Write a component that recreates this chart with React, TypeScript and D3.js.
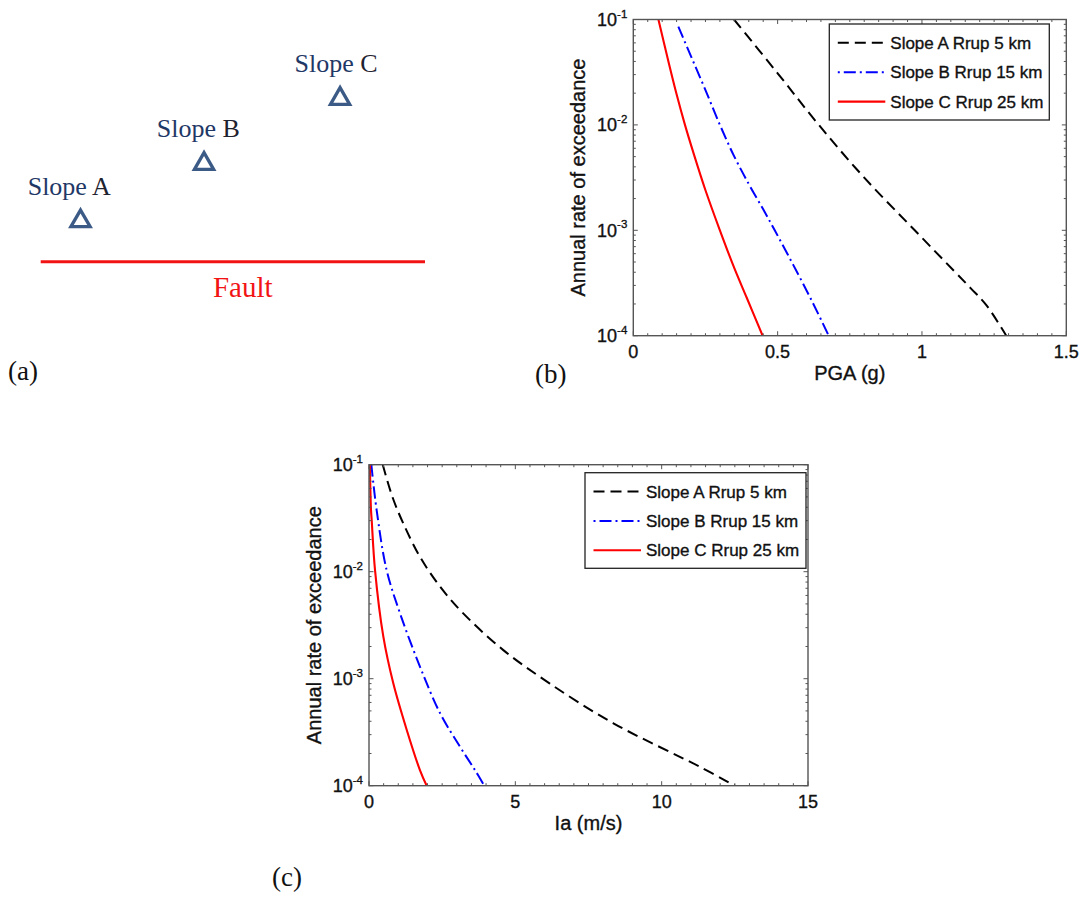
import React from 'react';
import * as d3 from 'd3';

// ---------- data ----------
const legendLabels = ['Slope A Rrup 5 km', 'Slope B Rrup 15 km', 'Slope C Rrup 25 km'];
const rateTicks = [1e-4, 1e-3, 1e-2, 1e-1];
const rateTickExp = ['-4', '-3', '-2', '-1'];
const pgaTicks = [0, 0.5, 1, 1.5];
const pgaTickLabels = ['0', '0.5', '1', '1.5'];
const iaTicks = [0, 5, 10, 15];
const iaTickLabels = ['0', '5', '10', '15'];

// panel (b): PGA hazard curves
const pgaA = [0.349, 0.5, 0.64, 0.8, 0.975, 1.108, 1.17, 1.223, 1.292];
const rateA_pga = [0.1, 0.0309, 0.0102, 0.00316, 0.001, 4.2e-4, 2.8e-4, 1.95e-4, 1e-4];
const pgaB = [0.156, 0.2, 0.25, 0.3, 0.35, 0.4, 0.45, 0.49, 0.554, 0.62, 0.677];
const rateB_pga = [0.0855, 0.0447, 0.0214, 0.01, 0.005, 0.00275, 0.00158, 0.001, 4.7e-4, 2.1e-4, 1e-4];
const pgaC = [0.087, 0.12, 0.15, 0.179, 0.21, 0.25, 0.3, 0.35, 0.393, 0.448];
const rateC_pga = [0.1, 0.0417, 0.0195, 0.01, 0.00525, 0.0024, 0.001, 4.37e-4, 2.29e-4, 1e-4];

// panel (c): Ia hazard curves
const iaA = [0.47, 0.8, 1.17, 1.74, 2.43, 3.22, 4.59, 6.18, 8.35, 11.31, 12.5];
const rateA_ia = [0.1, 0.05, 0.0283, 0.0138, 0.00724, 0.00408, 0.00185, 9.0e-4, 3.83e-4, 1.5e-4, 1e-4];
const iaB = [0.08, 0.26, 0.6, 1.06, 1.74, 2.43, 3.11, 3.62, 3.94];
const rateB_ia = [0.1, 0.0378, 0.0104, 0.00408, 0.0013, 4.75e-4, 2.31e-4, 1.4e-4, 1e-4];
const iaC = [0.03, 0.068, 0.092, 0.205, 0.49, 0.83, 1.29, 1.74, 1.97];
const rateC_ia = [0.1, 0.038, 0.0304, 0.0104, 0.00247, 9.06e-4, 3.32e-4, 1.4e-4, 1e-4];

// panel (a): schematic
const siteNames = ['A', 'B', 'C'];
const siteAlong = [10.36, 42.5, 77.9]; // % along fault
const siteHeight = [35, 92.4, 157.4]; // schematic distance above fault

// ---------- styles ----------
const SANS = '"Liberation Sans", Arial, Helvetica, sans-serif';
const SERIF = '"Liberation Serif", "Times New Roman", serif';
const TXT = '#111';
const seriesStyle = [
  { color: '#000000', dash: '11,6', width: 2 },
  { color: '#0000ff', dash: '12,4,2,4', width: 2 },
  { color: '#ff0000', dash: '', width: 2.1 },
];

type Box = { left: number; right: number; top: number; bottom: number };
type Leg = { x: number; y: number; w: number; h: number };

const boldish = { stroke: TXT, strokeWidth: 0.35 };

function Panel(props: {
  id: string;
  box: Box;
  xMax: number;
  xTicks: number[];
  xTickLabels: string[];
  xMinorStep: number;
  xLabel: string;
  xs: number[][];
  ys: number[][];
  legend: Leg;
}) {
  const { id, box, xMax, xTicks, xTickLabels, xMinorStep, xLabel, xs, ys, legend } = props;
  const x = d3.scaleLinear().domain([0, xMax]).range([box.left, box.right]);
  const y = d3.scaleLog().domain([1e-4, 1e-1]).range([box.bottom, box.top]);
  const axisColor = '#555';
  const majorLen = 4.5;
  const minorLen = 2.5;
  const xMinor = d3.range(0, xMax + 1e-9, xMinorStep).filter(
    (v) => !xTicks.some((t) => Math.abs(t - v) < 1e-9)
  );
  const yMinor: number[] = [];
  [-4, -3, -2].forEach((e) => {
    for (let k = 2; k <= 9; k++) yMinor.push(k * Math.pow(10, e));
  });
  const line = d3
    .line<[number, number]>()
    .x((d) => x(d[0]))
    .y((d) => y(d[1]))
    .curve(d3.curveCatmullRom.alpha(0.5));
  const midX = (box.left + box.right) / 2;
  const midY = (box.top + box.bottom) / 2;
  const tickEls: React.ReactNode[] = [];
  xTicks.forEach((t, i) => {
    tickEls.push(
      <line key={'xb' + i} x1={x(t)} x2={x(t)} y1={box.bottom} y2={box.bottom - majorLen} stroke={axisColor} strokeWidth={1} />,
      <line key={'xt' + i} x1={x(t)} x2={x(t)} y1={box.top} y2={box.top + majorLen} stroke={axisColor} strokeWidth={1} />
    );
  });
  xMinor.forEach((t, i) => {
    tickEls.push(
      <line key={'xmb' + i} x1={x(t)} x2={x(t)} y1={box.bottom} y2={box.bottom - minorLen} stroke={axisColor} strokeWidth={1} />,
      <line key={'xmt' + i} x1={x(t)} x2={x(t)} y1={box.top} y2={box.top + minorLen} stroke={axisColor} strokeWidth={1} />
    );
  });
  rateTicks.forEach((t, i) => {
    tickEls.push(
      <line key={'yl' + i} x1={box.left} x2={box.left + majorLen} y1={y(t)} y2={y(t)} stroke={axisColor} strokeWidth={1} />,
      <line key={'yr' + i} x1={box.right} x2={box.right - majorLen} y1={y(t)} y2={y(t)} stroke={axisColor} strokeWidth={1} />
    );
  });
  yMinor.forEach((t, i) => {
    tickEls.push(
      <line key={'yml' + i} x1={box.left} x2={box.left + minorLen} y1={y(t)} y2={y(t)} stroke={axisColor} strokeWidth={1} />,
      <line key={'ymr' + i} x1={box.right} x2={box.right - minorLen} y1={y(t)} y2={y(t)} stroke={axisColor} strokeWidth={1} />
    );
  });
  return (
    <g>
      <defs>
        <clipPath id={'clip-' + id}>
          <rect x={box.left} y={box.top} width={box.right - box.left} height={box.bottom - box.top} />
        </clipPath>
      </defs>
      <g clipPath={`url(#clip-${id})`}>
        {xs.map((sx, si) => (
          <path
            key={si}
            d={line(sx.map((v, j) => [v, ys[si][j]] as [number, number])) || ''}
            fill="none"
            stroke={seriesStyle[si].color}
            strokeWidth={seriesStyle[si].width}
            strokeDasharray={seriesStyle[si].dash || undefined}
          />
        ))}
      </g>
      {tickEls}
      <rect
        x={box.left}
        y={box.top}
        width={box.right - box.left}
        height={box.bottom - box.top}
        fill="none"
        stroke={axisColor}
        strokeWidth={1.4}
      />
      {/* x tick labels */}
      {xTicks.map((t, i) => (
        <text key={'xl' + i} x={x(t)} y={box.bottom + 22} textAnchor="middle" fontFamily={SANS} fontSize={18} fill={TXT} {...boldish}>
          {xTickLabels[i]}
        </text>
      ))}
      {/* y tick labels */}
      {rateTicks.map((t, i) => (
        <text key={'yt' + i} x={box.left - 6} y={y(t) + 6.5} textAnchor="end" fontFamily={SANS} fontSize={18} fill={TXT} {...boldish}>
          10
          <tspan fontSize={11.5} dy={-8.5}>
            {rateTickExp[i]}
          </tspan>
        </text>
      ))}
      <text x={midX} y={box.bottom + 44} textAnchor="middle" fontFamily={SANS} fontSize={20} fill={TXT} {...boldish}>
        {xLabel}
      </text>
      <text
        transform={`translate(${box.left - 48},${midY}) rotate(-90)`}
        textAnchor="middle"
        fontFamily={SANS}
        fontSize={20}
        fill={TXT}
        {...boldish}
      >
        Annual rate of exceedance
      </text>
      {/* legend */}
      <rect x={legend.x} y={legend.y} width={legend.w} height={legend.h} fill="#fff" stroke="#222" strokeWidth={1.3} />
      {legendLabels.map((lab, i) => {
        const ry = legend.y + 18.8 + 29.4 * i;
        const st = seriesStyle[i];
        return (
          <g key={'lg' + i}>
            <line
              x1={legend.x + 8.5}
              x2={legend.x + 56}
              y1={ry}
              y2={ry}
              stroke={st.color}
              strokeWidth={st.width}
              strokeDasharray={st.dash || undefined}
              strokeDashoffset={i === 1 ? 16 : 0}
            />
            <text x={legend.x + 61} y={ry + 6} fontFamily={SANS} fontSize={17} fill={TXT} {...boldish}>
              {lab}
            </text>
          </g>
        );
      })}
    </g>
  );
}

function Schematic() {
  const sx = d3.scaleLinear().domain([0, 100]).range([40.7, 425]);
  const sy = d3.scaleLinear().domain([0, 100]).range([261.7, 161.7]);
  const side = 19.2;
  const h = (side * Math.sqrt(3)) / 2;
  const labelShift = [-11.3, -5.7, -4];
  return (
    <g>
      <line x1={sx(0)} x2={sx(100)} y1={sy(0)} y2={sy(0)} stroke="#f21414" strokeWidth={3} />
      <text x={242.7} y={296.7} textAnchor="middle" fontFamily={SERIF} fontSize={29} fill="#f21414">
        Fault
      </text>
      {siteNames.map((n, i) => {
        const cx = sx(siteAlong[i]);
        const by = sy(siteHeight[i]);
        const d = `M${cx - side / 2},${by} L${cx + side / 2},${by} L${cx},${by - h} Z`;
        return (
          <g key={n}>
            <path d={d} fill="none" stroke="#3c5a86" strokeWidth={3.3} strokeLinejoin="miter" />
            <text x={cx + labelShift[i]} y={by - 32} textAnchor="middle" fontFamily={SERIF} fontSize={26} fill="#1f3866">
              Slope <tspan fill="#1f2330">{n}</tspan>
            </text>
          </g>
        );
      })}
    </g>
  );
}

export default function App() {
  return (
    <svg
      width={1083}
      height={899}
      viewBox="0 0 1083 899"
      style={{ position: 'absolute', left: 0, top: 0, background: '#fff' }}
    >
      <rect x={0} y={0} width={1083} height={899} fill="#fff" />
      <Schematic />
      <text x={8} y={380} fontFamily={SERIF} fontSize={27} fill={TXT}>(a)</text>
      <text x={535} y={383} fontFamily={SERIF} fontSize={27} fill={TXT}>(b)</text>
      <text x={272} y={886} fontFamily={SERIF} fontSize={27} fill={TXT}>(c)</text>
      <Panel
        id="b"
        box={{ left: 633.3, right: 1066.3, top: 19.5, bottom: 335.7 }}
        xMax={1.5}
        xTicks={pgaTicks}
        xTickLabels={pgaTickLabels}
        xMinorStep={0.05}
        xLabel="PGA (g)"
        xs={[pgaA, pgaB, pgaC]}
        ys={[rateA_pga, rateB_pga, rateC_pga]}
        legend={{ x: 829.3, y: 24, w: 220, h: 96 }}
      />
      <Panel
        id="c"
        box={{ left: 369, right: 808, top: 464.7, bottom: 785.7 }}
        xMax={15}
        xTicks={iaTicks}
        xTickLabels={iaTickLabels}
        xMinorStep={0.5}
        xLabel="Ia (m/s)"
        xs={[iaA, iaB, iaC]}
        ys={[rateA_ia, rateB_ia, rateC_ia]}
        legend={{ x: 585, y: 472.7, w: 221, h: 95.6 }}
      />
    </svg>
  );
}
